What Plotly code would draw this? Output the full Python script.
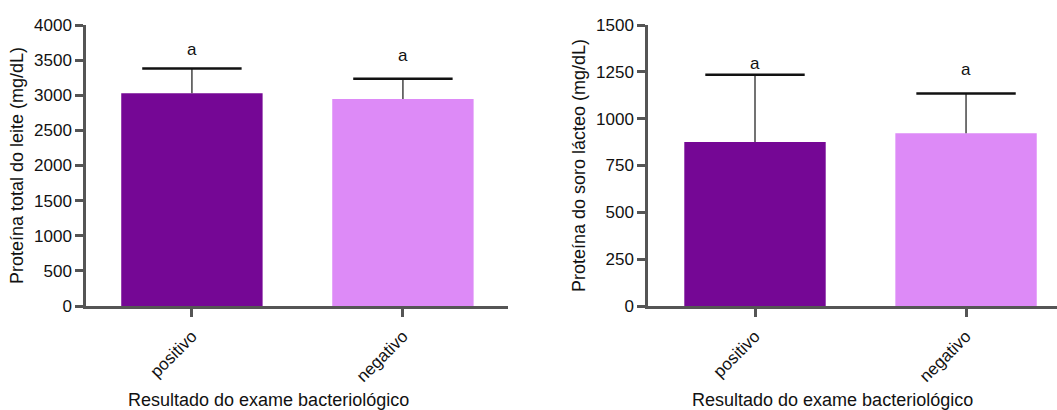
import plotly.graph_objects as go

# Resultado do exame bacteriológico
categories = ["positivo", "negativo"]

# Proteína total do leite (mg/dL): média e desvio padrão
total_mean = [3030, 2945]
total_sd = [350, 290]

# Proteína do soro lácteo (mg/dL): média e desvio padrão
whey_mean = [875, 922]
whey_sd = [360, 212]

# letras de significância
letters_total = ["a", "a"]
letters_whey = ["a", "a"]

x_title = "Resultado do exame bacteriológico"

bar_colors = ["#750795", "#DD8AF7"]
axis_color = "#555555"
font_family = "Liberation Sans, Arial, sans-serif"

W, H = 1057, 410
ydom = [104 / H, 385 / H]

fig = go.Figure()


def add_panel(means, sds, xa, ya):
    fig.add_trace(go.Bar(
        x=categories, y=means, width=0.67,
        marker=dict(color=bar_colors, line=dict(width=0)),
        error_y=dict(type="data", array=sds, arrayminus=[0] * len(sds),
                     symmetric=False, color="#444444", thickness=1.5, width=0),
        xaxis=xa, yaxis=ya, showlegend=False, hoverinfo="skip",
    ))
    # cross-bar at the top of each error bar
    fig.add_trace(go.Scatter(
        x=categories, y=[m + s for m, s in zip(means, sds)], mode="markers",
        marker=dict(symbol="line-ew", size=71,
                    line=dict(color="#111111", width=2.5)),
        xaxis=xa, yaxis=ya, showlegend=False, hoverinfo="skip",
    ))


add_panel(total_mean, total_sd, "x", "y")
add_panel(whey_mean, whey_sd, "x2", "y2")

axis_common = dict(
    showline=True, linecolor=axis_color, linewidth=2.5,
    ticks="outside", tickcolor=axis_color, tickwidth=2.5, ticklen=8,
    showgrid=False, zeroline=False, automargin=False,
    tickfont=dict(family=font_family, size=17, color="#111111"),
)

fig.update_layout(
    width=W, height=H,
    margin=dict(l=0, r=0, t=0, b=0, autoexpand=False),
    paper_bgcolor="white", plot_bgcolor="white",
    font=dict(family=font_family, color="#111111"),
    bargap=0.33,
    xaxis=dict(domain=[86 / W, 508 / W], range=[-0.502, 1.498],
               tickangle=-45, ticklabelstandoff=3, **axis_common),
    yaxis=dict(domain=ydom, range=[0, 4000], tickvals=list(range(0, 4001, 500)),
               **axis_common,
               title=dict(text="Proteína total do leite (mg/dL)",
                          font=dict(size=18), standoff=6)),
    xaxis2=dict(domain=[648 / W, 1.0], range=[-0.507, 1.431], anchor="y2",
                tickangle=-45, ticklabelstandoff=3, **axis_common),
    yaxis2=dict(domain=ydom, range=[0, 1500], tickvals=list(range(0, 1501, 250)),
                anchor="x2", **axis_common,
                title=dict(text="Proteína do soro lácteo (mg/dL)",
                           font=dict(size=18), standoff=6)),
)

# x-axis titles below each panel
for xc in (268 / W, 832 / W):
    fig.add_annotation(x=xc, y=10 / H, xref="paper", yref="paper",
                       text=x_title, showarrow=False,
                       xanchor="center", yanchor="middle",
                       font=dict(family=font_family, size=18, color="#111111"))

# significance letters above the error bars
letter_y_total = [3645, 3560]
letter_y_whey = [1296, 1263]
for xa, ya, letters, ys in [("x", "y", letters_total, letter_y_total),
                            ("x2", "y2", letters_whey, letter_y_whey)]:
    for cat, txt, yy in zip(categories, letters, ys):
        fig.add_annotation(x=cat, y=yy, xref=xa, yref=ya, text=txt,
                           showarrow=False, yanchor="middle",
                           font=dict(family=font_family, size=17, color="#111111"))

fig.write_html("out.html")
